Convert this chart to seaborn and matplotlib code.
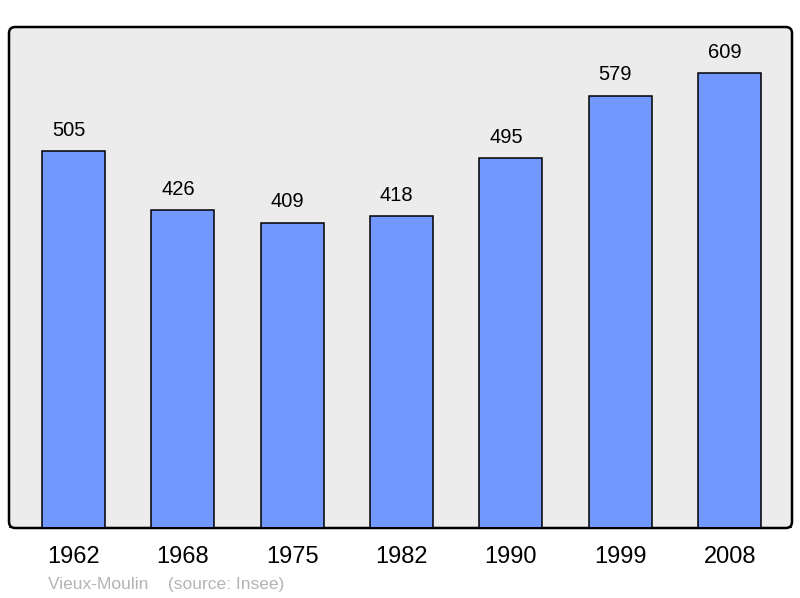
import matplotlib
matplotlib.use('Agg')
import matplotlib.pyplot as plt
import seaborn as sns
import pandas as pd
from matplotlib.patches import FancyBboxPatch

# Data
years = ['1962', '1968', '1975', '1982', '1990', '1999', '2008']
population = [505, 426, 409, 418, 495, 579, 609]
commune = 'Vieux-Moulin'
source = '(source: Insee)'

df = pd.DataFrame({'year': years, 'pop': population})

sns.set_style('white')
plt.rcParams['font.family'] = ['Liberation Sans', 'DejaVu Sans']
plt.rcParams['text.color'] = 'black'
plt.rcParams['xtick.color'] = 'black'

fig = plt.figure(figsize=(8, 5.98), dpi=100)
ax = fig.add_axes([9 / 800, 70 / 598, 783 / 800, 501 / 598])
ax.set_facecolor('none')

# rounded frame behind the bars
frame = FancyBboxPatch((0, 0), 1, 1, boxstyle='round,pad=0,rounding_size=0.008',
                       transform=ax.transAxes, facecolor='#ececec', edgecolor='black',
                       linewidth=1.8, zorder=0, clip_on=False, mutation_aspect=783 / 501)
ax.add_patch(frame)

sns.barplot(data=df, x='year', y='pop', color='#7098ff', saturation=1,
            edgecolor='black', linewidth=1.1, width=0.576, ax=ax, zorder=2)

ax.set_xlim(-0.59, 6.57)
ax.set_ylim(0, 671)
for s in ax.spines.values():
    s.set_visible(False)
ax.axhline(0, color='black', linewidth=2, zorder=3)
ax.set_yticks([])
ax.set_xlabel('')
ax.set_ylabel('')
ax.tick_params(axis='x', length=0, labelsize=17, pad=13, labelcolor='black')

for i, v in enumerate(population):
    ax.text(i - 0.045, v + 15, str(v), ha='center', va='bottom', fontsize=14.5, color='black')

fig.text(48 / 800, 1 - 584 / 598, commune + '    ' + source, ha='left', va='center',
         fontsize=12.5, color='#b4b4b4')

fig.savefig('out.png', dpi=100)
